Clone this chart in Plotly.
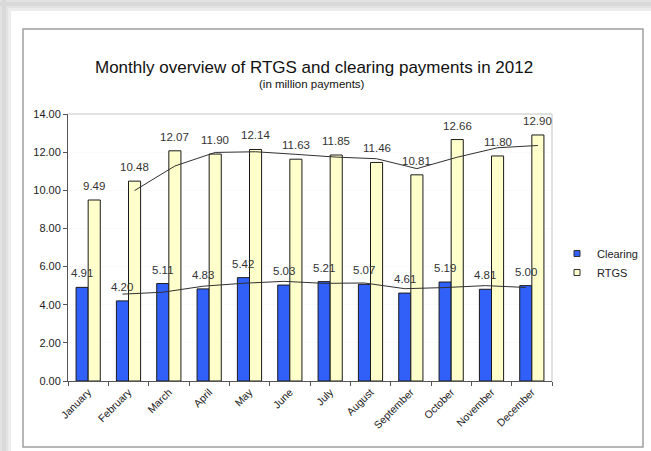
import plotly.graph_objects as go

months = ["January", "February", "March", "April", "May", "June", "July",
          "August", "September", "October", "November", "December"]
clearing = [4.91, 4.20, 5.11, 4.83, 5.42, 5.03, 5.21, 5.07, 4.61, 5.19, 4.81, 5.00]
rtgs = [9.49, 10.48, 12.07, 11.90, 12.14, 11.63, 11.85, 11.46, 10.81, 12.66, 11.80, 12.90]
y_ticks = [0, 2, 4, 6, 8, 10, 12, 14]

W, H = 651, 451
L, R, T, B = 68, 552, 114, 381
BAR_W = 0.3
FONT = "Liberation Sans, Arial, sans-serif"
BLUE = "#3060f8"
YELLOW = "#ffffcc"

def px(x):
    return (x - L) / (R - L)

def py(y):
    return (B - y) / (B - T)

idx = list(range(len(months)))

def mov_avg(vals):
    return [(vals[i - 1] + vals[i]) / 2 for i in range(1, len(vals))]

fig = go.Figure()
fig.add_trace(go.Bar(
    x=[i - BAR_W / 2 for i in idx], y=clearing, width=BAR_W, name="Clearing",
    marker=dict(color=BLUE, line=dict(color="#1a1a1a", width=1)), showlegend=False,
))
fig.add_trace(go.Bar(
    x=[i + BAR_W / 2 for i in idx], y=rtgs, width=BAR_W, name="RTGS",
    marker=dict(color=YELLOW, line=dict(color="#1a1a1a", width=1)), showlegend=False,
))
fig.add_trace(go.Scatter(
    x=[i - BAR_W / 2 for i in idx[1:]], y=mov_avg(clearing), mode="lines",
    line=dict(color="#303030", width=1), showlegend=False, hoverinfo="skip",
))
fig.add_trace(go.Scatter(
    x=[i + BAR_W / 2 for i in idx[1:]], y=mov_avg(rtgs), mode="lines",
    line=dict(color="#303030", width=1), showlegend=False, hoverinfo="skip",
))
# legend entries with small square keys
for name, col in (("Clearing", BLUE), ("RTGS", YELLOW)):
    fig.add_trace(go.Scatter(
        x=[None], y=[None], mode="markers", name=name,
        marker=dict(symbol="square", size=6, color=col,
                    line=dict(color="#333333", width=1)),
    ))

annotations = []
for i in idx:
    for off, v in ((-BAR_W / 2, clearing[i]), (BAR_W / 2, rtgs[i])):
        annotations.append(dict(
            x=i + off, y=v, xref="x", yref="y", text=f"{v:.2f}",
            showarrow=False, yanchor="bottom", yshift=6,
            font=dict(family=FONT, size=11.5, color="#333333"),
        ))
annotations.append(dict(
    x=px(314), y=py(56), xref="paper", yref="paper", showarrow=False,
    text="Monthly overview of RTGS and clearing payments in 2012",
    font=dict(family=FONT, size=17, color="#111111"),
))
annotations.append(dict(
    x=px(312), y=py(76), xref="paper", yref="paper", showarrow=False,
    text="(in million payments)",
    font=dict(family=FONT, size=11.5, color="#111111"),
))

shapes = []
# drop shadow bands (top and left)
for (a, b, col) in [(0, 11, "#ececec"), (0, 8, "#e2e2e2"), (2, 6, "#d9d9d9")]:
    shapes.append(dict(type="rect", xref="paper", yref="paper",
                       x0=px(0), x1=px(W), y0=py(a), y1=py(b),
                       fillcolor=col, line=dict(width=0), layer="below"))
    shapes.append(dict(type="rect", xref="paper", yref="paper",
                       x0=px(a), x1=px(b), y0=py(0), y1=py(H),
                       fillcolor=col, line=dict(width=0), layer="below"))
# chart frame
shapes.append(dict(type="rect", xref="paper", yref="paper",
                   x0=px(23), x1=px(643), y0=py(447), y1=py(29),
                   fillcolor="white", line=dict(color="#a0a0a0", width=1.5),
                   layer="below"))
# plot area top / right border
shapes.append(dict(type="line", xref="paper", yref="paper", x0=0, x1=1, y0=1, y1=1,
                   line=dict(color="#c4c4c4", width=1)))
shapes.append(dict(type="line", xref="paper", yref="paper", x0=1, x1=1, y0=0, y1=1,
                   line=dict(color="#c4c4c4", width=1)))

fig.update_layout(
    width=W, height=H,
    margin=dict(l=L, r=W - R, t=T, b=H - B, autoexpand=False),
    paper_bgcolor="white", plot_bgcolor="#eeeeee",
    barmode="overlay",
    font=dict(family=FONT, size=10, color="#222222"),
    showlegend=True,
    legend=dict(x=px(557), y=py(263), xanchor="left", yanchor="middle",
                bgcolor="rgba(0,0,0,0)", font=dict(size=11, color="#222222"),
                itemwidth=30, tracegroupgap=0),
    annotations=annotations,
    shapes=shapes,
    xaxis=dict(
        range=[-0.5, 11.5], tickmode="array", tickvals=idx, ticktext=months,
        tickangle=-45, ticks="", showgrid=False, zeroline=False,
        showline=True, linecolor="#555555", linewidth=1,
        tickfont=dict(size=10.5, color="#222222"),
        minor=dict(tick0=-0.5, dtick=1, ticks="outside", ticklen=4,
                   tickcolor="#555555", showgrid=False),
    ),
    yaxis=dict(
        range=[0, 14], tickmode="array", tickvals=y_ticks,
        ticktext=[f"{v:.2f}" for v in y_ticks],
        ticks="outside", ticklen=4, tickcolor="#555555",
        showline=True, linecolor="#555555", linewidth=1,
        showgrid=True, gridcolor="#fafafa", gridwidth=1, zeroline=False,
        tickfont=dict(size=11, color="#222222"),
    ),
)

fig.write_html("out.html", config={"displayModeBar": False},
               post_script="document.body.style.margin='0';")
